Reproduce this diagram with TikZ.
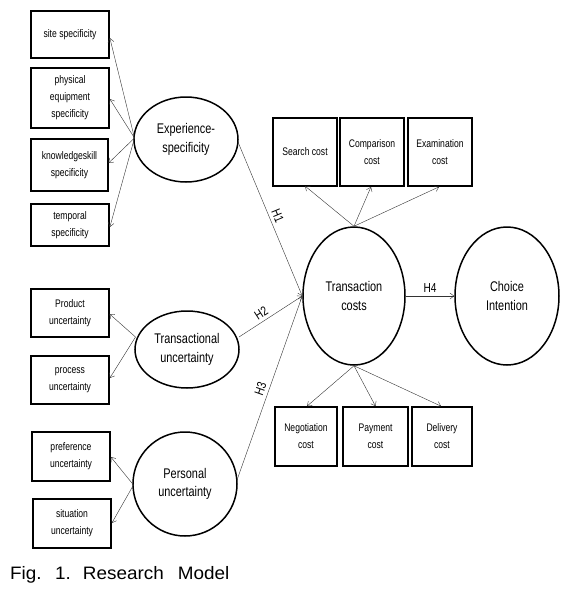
\documentclass[tikz,border=0pt]{standalone}
\usepackage{fontspec}
\setmainfont{Liberation Sans}
\newfontfamily\narrowfont[FakeStretch=0.78]{Liberation Sans}
\newfontfamily\capfont[FakeStretch=1.05]{Liberation Sans}
\usetikzlibrary{arrows.meta,shapes.geometric}
\begin{document}
\begin{tikzpicture}[x=1pt,y=-1pt,
  obsbox/.style={draw, line width=1.7pt, inner sep=1pt, align=center,
    font=\narrowfont\fontsize{11}{17}\selectfont},
  latent/.style={draw, ellipse, line width=1.5pt, inner sep=0pt, align=center,
    font=\narrowfont\fontsize{14}{18.5}\selectfont},
  arr/.style={-{Straight Barb[length=4pt,width=6pt]}, line width=0.4pt, draw=black!80},
  hlab/.style={font=\narrowfont\fontsize{13}{14}\selectfont, inner sep=3.5pt}]
\useasboundingbox (0,0) rectangle (579,598);
% left boxes
\node[obsbox, minimum width=78pt, minimum height=47pt] (site) at (70,34.5) {site specificity};
\node[obsbox, minimum width=78pt, minimum height=60pt] (phys) at (70,98) {physical\\equipment\\specificity};
\node[obsbox, line width=1.2pt, minimum width=77pt, minimum height=52pt] (know) at (69.5,165) {knowledgeskill\\specificity};
\node[obsbox, minimum width=78pt, minimum height=42pt] (temp) at (70,225) {temporal\\specificity};
\node[obsbox, line width=1.2pt, minimum width=78pt, minimum height=48pt] (prod) at (70,313) {Product\\uncertainty};
\node[obsbox, minimum width=78pt, minimum height=48pt] (proc) at (70,380) {process\\uncertainty};
\node[obsbox, minimum width=78pt, minimum height=49pt] (pref) at (71,456.5) {preference\\uncertainty};
\node[obsbox, minimum width=78pt, minimum height=49pt] (sit) at (72,523.5) {situation\\uncertainty};
% top and bottom boxes
\node[obsbox, minimum width=64pt, minimum height=68pt] (search) at (305,152) {Search cost};
\node[obsbox, minimum width=64pt, minimum height=68pt] (comp) at (372,152) {Comparison\\cost};
\node[obsbox, minimum width=64pt, minimum height=68pt] (exam) at (440,152) {Examination\\cost};
\node[obsbox, minimum width=62pt, minimum height=59pt] (nego) at (306,436.5) {Negotiation\\cost};
\node[obsbox, minimum width=65pt, minimum height=59pt] (pay) at (375.5,436.5) {Payment\\cost};
\node[obsbox, minimum width=60pt, minimum height=59pt] (deliv) at (442,436.5) {Delivery\\cost};
% latent variables
\node[latent, minimum width=104pt, minimum height=85pt] (exp) at (186,139.5) {Experience-\\specificity};
\node[latent, minimum width=104pt, minimum height=77pt] (tu) at (187,349.5) {Transactional\\uncertainty};
\node[latent, minimum width=104pt, minimum height=104pt] (pu) at (185,484) {Personal\\uncertainty};
\node[latent, minimum width=102pt, minimum height=138pt] (tc) at (354,296) {Transaction\\costs};
\node[latent, minimum width=104pt, minimum height=138pt] (ci) at (507,296) {Choice\\Intention};
% measurement arrows
\coordinate (expw) at (134.5,138);
\draw[arr] (expw) -- (site.east |- 0,38);
\draw[arr] (expw) -- (phys.east |- 0,99);
\draw[arr] (expw) -- (know.east |- 0,163);
\draw[arr] (expw) -- (temp.east |- 0,227);
\coordinate (tuw) at (135.5,337);
\draw[arr] (tuw) -- (prod.east |- 0,314);
\draw[arr] (tuw) -- (proc.east |- 0,378);
\coordinate (puw) at (133.5,485);
\draw[arr] (puw) -- (pref.east |- 0,457);
\draw[arr] (puw) -- (sit.east |- 0,523);
\draw[arr] (tc.north) -- (search.south |- 0,186);
\draw[arr] (tc.north) -- ([xshift=-1pt]comp.south);
\draw[arr] (tc.north) -- ([xshift=-1pt]exam.south);
\draw[arr] (tc.south) -- ([xshift=1pt]nego.north);
\draw[arr] (tc.south) -- (pay.north);
\draw[arr] (tc.south) -- ([xshift=-1pt]deliv.north);
% structural arrows
\coordinate (expe) at (238,142);
\coordinate (tue) at (239,337);
\coordinate (pue) at (237,480);
\draw[arr] (expe) -- node[hlab, pos=0.5, sloped, above] {H1} (tc.west);
\draw[arr] (tue) -- node[hlab, pos=0.42, sloped, above] {H2} (tc.west);
\draw[arr] (pue) -- node[hlab, pos=0.48, sloped, above] {H3} (tc.west);
\draw[arr] (tc.east) -- node[hlab, above, pos=0.5] {H4} (ci.west);
% caption
\node[anchor=base west, inner sep=0pt, font=\capfont\fontsize{18}{20}\selectfont] (cap) at (10,579)
  {Fig.\hspace{13.5pt}1.\hspace{12pt}Research\hspace{14pt}Model};
\end{tikzpicture}
\end{document}
